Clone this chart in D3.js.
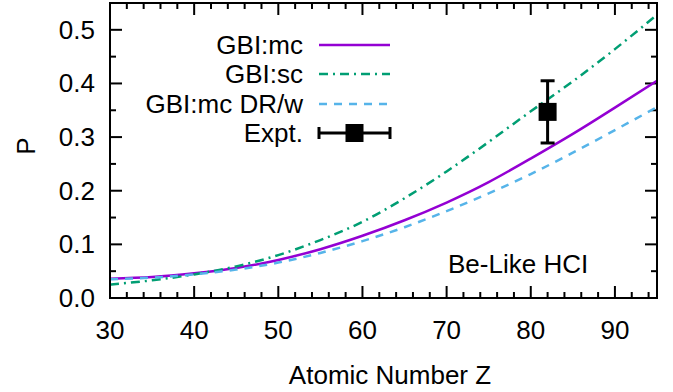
<!DOCTYPE html>
<html><head><meta charset="utf-8">
<script src="https://cdn.jsdelivr.net/npm/d3@7"></script>
<style>body{margin:0;background:#fff}svg text{font-family:"Liberation Sans",Arial,sans-serif;fill:#000}</style>
</head><body><svg id="c" width="673" height="392"></svg>
<script>
const zValues = [30,35,40,45,50,55,60,65,70,75,80,85,90,95];
const gbiMc   = [0.036,0.039,0.046,0.056,0.071,0.091,0.116,0.145,0.178,0.216,0.260,0.306,0.355,0.405];
const gbiSc   = [0.025,0.033,0.044,0.059,0.080,0.108,0.142,0.186,0.236,0.291,0.348,0.404,0.464,0.528];
const gbiDrw  = [0.035,0.038,0.044,0.053,0.066,0.084,0.106,0.132,0.162,0.195,0.231,0.271,0.313,0.356];
const exptZ = [82], exptP = [0.347], exptErr = [0.058];
const xTicks = [30,40,50,60,70,80,90];
const yTicks = [0,0.1,0.2,0.3,0.4,0.5];
const yTickLabels = ["0.0","0.1","0.2","0.3","0.4","0.5"];
const seriesNames = ["GBI:mc","GBI:sc","GBI:mc DR/w","Expt."];
const colors = ["#9400d3","#009e73","#56b4e9","#000"];
const dashes = [null,"9,5,2,5","8,7",null];

const L=110,R=657,T=3,B=298, FS=26;
const svg=d3.select("#c");
const x=d3.scaleLinear().domain([30,95]).range([L,R]);
const y=d3.scaleLinear().domain([0,0.55]).range([B,T]);

// ticks (inward, mirrored)
const g=svg.append("g").attr("stroke","#000").attr("stroke-width",2);
const xMinor=d3.range(32,95,2).filter(v=>v%10!==0);
const yMinor=[0.05,0.15,0.25,0.35,0.45];
xTicks.forEach(v=>{g.append("line").attr("x1",x(v)).attr("x2",x(v)).attr("y1",B).attr("y2",B-12);
  g.append("line").attr("x1",x(v)).attr("x2",x(v)).attr("y1",T).attr("y2",T+12);});
xMinor.forEach(v=>{g.append("line").attr("x1",x(v)).attr("x2",x(v)).attr("y1",B).attr("y2",B-6);
  g.append("line").attr("x1",x(v)).attr("x2",x(v)).attr("y1",T).attr("y2",T+6);});
yTicks.forEach(v=>{g.append("line").attr("y1",y(v)).attr("y2",y(v)).attr("x1",L).attr("x2",L+12);
  g.append("line").attr("y1",y(v)).attr("y2",y(v)).attr("x1",R).attr("x2",R-12);});
yMinor.forEach(v=>{g.append("line").attr("y1",y(v)).attr("y2",y(v)).attr("x1",L).attr("x2",L+6);
  g.append("line").attr("y1",y(v)).attr("y2",y(v)).attr("x1",R).attr("x2",R-6);});

// tick labels
xTicks.forEach(v=>svg.append("text").attr("x",x(v)).attr("y",339).attr("text-anchor","middle").attr("font-size",FS).text(v));
yTicks.forEach((v,i)=>svg.append("text").attr("x",95).attr("y",y(v)+9).attr("text-anchor","end").attr("font-size",FS).text(yTickLabels[i]));

// curves
svg.append("clipPath").attr("id","cp").append("rect").attr("x",L).attr("y",T).attr("width",R-L).attr("height",B-T);
const line=d3.line().x((d,i)=>x(zValues[i])).y(d=>y(d)).curve(d3.curveNatural);
[gbiMc,gbiSc,gbiDrw].forEach((s,i)=>{
  svg.append("path").attr("d",line(s)).attr("fill","none").attr("stroke",colors[i]).attr("stroke-width",2.5)
   .attr("stroke-dasharray",dashes[i]).attr("clip-path","url(#cp)");
});

// expt
function errBar(cx,cy,top,bot,horiz){
  const e=svg.append("g").attr("stroke","#000").attr("stroke-width",3);
  if(!horiz){
    e.append("line").attr("x1",cx).attr("x2",cx).attr("y1",top).attr("y2",bot);
    e.append("line").attr("x1",cx-7).attr("x2",cx+7).attr("y1",top).attr("y2",top);
    e.append("line").attr("x1",cx-7).attr("x2",cx+7).attr("y1",bot).attr("y2",bot);
  } else {
    e.append("line").attr("y1",cy).attr("y2",cy).attr("x1",top).attr("x2",bot);
    e.append("line").attr("y1",cy-6).attr("y2",cy+6).attr("x1",top).attr("x2",top);
    e.append("line").attr("y1",cy-6).attr("y2",cy+6).attr("x1",bot).attr("x2",bot);
  }
  svg.append("rect").attr("x",cx-9).attr("y",cy-9).attr("width",18).attr("height",18).attr("fill","#000");
}
exptZ.forEach((z,i)=>errBar(x(z),y(exptP[i]),y(exptP[i]+exptErr[i]),y(exptP[i]-exptErr[i]),false));

// frame
svg.append("rect").attr("x",L).attr("y",T).attr("width",R-L).attr("height",B-T).attr("fill","none").attr("stroke","#000").attr("stroke-width",2);

// legend
const legY=[45,74,104,133], lx1=319, lx2=390, tx=303;
seriesNames.forEach((n,i)=>{
  svg.append("text").attr("x",tx).attr("y",legY[i]+9).attr("text-anchor","end").attr("font-size",FS).text(n);
  if(i<3) svg.append("line").attr("x1",lx1).attr("x2",lx2).attr("y1",legY[i]).attr("y2",legY[i]).attr("stroke",colors[i]).attr("stroke-width",2.5).attr("stroke-dasharray",dashes[i]);
  else errBar((lx1+lx2)/2,legY[i],lx1,lx2,true);
});

svg.append("text").attr("x",448).attr("y",273).attr("font-size",FS).text("Be-Like HCI");
svg.append("text").attr("x",390).attr("y",384).attr("text-anchor","middle").attr("font-size",FS).text("Atomic Number Z");
svg.append("text").attr("transform","translate(35,146) rotate(-90)").attr("text-anchor","middle").attr("font-size",FS).text("P");
</script></body></html>
